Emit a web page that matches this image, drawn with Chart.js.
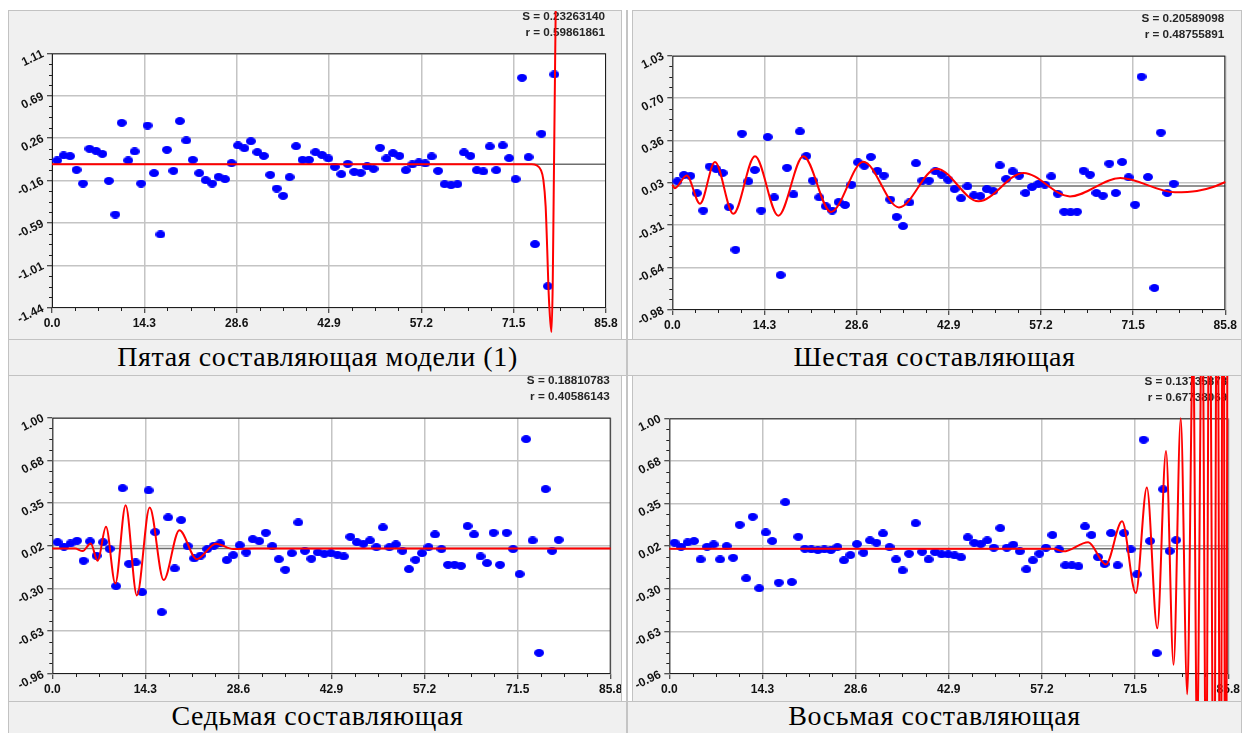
<!DOCTYPE html>
<html>
<head>
<meta charset="utf-8">
<script src="https://cdn.jsdelivr.net/npm/chart.js@4.4.1/dist/chart.umd.min.js"></script>
<style>
  html, body { margin: 0; padding: 0; background: #fff; }
  body { width: 1245px; height: 733px; position: relative; overflow: hidden; }
  .box { position: absolute; background: #f0f0f0; border: 1px solid #c2c2c2; box-sizing: border-box; }
  .box canvas { position: absolute; left: 0; top: 0; }
  .cap { position: absolute; background: #f0f0f0; border: 1px solid #c2c2c2; box-sizing: border-box;
         font-family: "Liberation Serif", "Times New Roman", serif; font-size: 28px; letter-spacing: 0.6px; color: #000;
         text-align: center; white-space: nowrap; overflow: hidden; }
  .sep { position: absolute; background: #c4c4c4; }
</style>
</head>
<body>

<div class="box" style="left:8px;top:10px;width:614px;height:330px"><canvas id="c5" width="612" height="328"></canvas></div>
<div class="box" style="left:632px;top:10px;width:610px;height:330px"><canvas id="c6" width="608" height="328"></canvas></div>
<div class="box" style="left:8px;top:375px;width:614px;height:327px"><canvas id="c7" width="612" height="325"></canvas></div>
<div class="box" style="left:632px;top:375px;width:610px;height:327px"><canvas id="c8" width="608" height="325"></canvas></div>

<div class="cap" style="left:8px;top:339px;width:619px;height:37px;line-height:32.5px;padding-top:1px">Пятая составляющая модели (1)</div>
<div class="cap" style="left:627px;top:339px;width:615px;height:37px;line-height:32.5px;padding-top:1px">Шестая составляющая</div>
<div class="cap" style="left:8px;top:701px;width:619px;height:40px;line-height:28px">Седьмая составляющая</div>
<div class="cap" style="left:627px;top:701px;width:615px;height:40px;line-height:28px">Восьмая составляющая</div>
<div class="sep" style="left:626px;top:10px;width:2px;height:723px"></div>

<script>
// axis ticks
const xTicks = [0, 14.3, 28.6, 42.9, 57.2, 71.5, 85.8];
const xTickLabels = ['0.0', '14.3', '28.6', '42.9', '57.2', '71.5', '85.8'];

const yTicks5 = [1.11, 0.685, 0.26, -0.165, -0.59, -1.015, -1.44];
const yLabels5 = ['1.11', '0.69', '0.26', '-0.16', '-0.59', '-1.01', '-1.44'];
const yTicks6 = [1.03, 0.695, 0.36, 0.025, -0.31, -0.645, -0.98];
const yLabels6 = ['1.03', '0.70', '0.36', '0.03', '-0.31', '-0.64', '-0.98'];
const yTicks78 = [1.00, 0.673, 0.347, 0.02, -0.307, -0.633, -0.96];
const yLabels78 = ['1.00', '0.68', '0.35', '0.02', '-0.30', '-0.63', '-0.96'];

// residuals (blue points), one per sample
const resid5 = [
  0.037, 0.087, 0.080, -0.057, -0.194, 0.154, 0.134, 0.103, -0.167, -0.504,
  0.414, 0.037, 0.127, -0.194, 0.387, -0.090, -0.704, 0.144, -0.067, 0.431,
  0.237, 0.043, -0.090, -0.160, -0.194, -0.127, -0.150, 0.010, 0.187, 0.160,
  0.230, 0.120, 0.083, -0.107, -0.244, -0.317, -0.130, 0.180, 0.043, 0.043,
  0.120, 0.093, 0.057, -0.027, -0.100, 0.003, -0.077, -0.087, -0.023, -0.047,
  0.164, 0.057, 0.110, 0.083, -0.060, -0.003, 0.017, 0.007, 0.077, -0.067,
  -0.200, -0.210, -0.200, 0.117, 0.083, -0.060, -0.073, 0.177, -0.060, 0.187,
  0.060, -0.150, 0.865, 0.070, -0.801, 0.304, -1.222, 0.898
];
const resid6 = [
  0.037, 0.087, 0.080, -0.057, -0.194, 0.154, 0.134, 0.103, -0.167, -0.504,
  0.414, 0.037, 0.127, -0.194, 0.387, -0.090, -0.704, 0.144, -0.067, 0.431,
  0.237, 0.043, -0.090, -0.160, -0.194, -0.127, -0.150, 0.010, 0.187, 0.160,
  0.230, 0.120, 0.083, -0.107, -0.244, -0.317, -0.130, 0.180, 0.043, 0.043,
  0.116, 0.090, 0.050, -0.024, -0.097, -0.003, -0.074, -0.080, -0.024, -0.040,
  0.163, 0.055, 0.116, 0.082, -0.055, -0.008, 0.016, 0.011, 0.076, -0.061,
  -0.203, -0.208, -0.203, 0.121, 0.090, -0.055, -0.076, 0.177, -0.055, 0.190,
  0.069, -0.148, 0.864, 0.071, -0.806, 0.422, -0.055, 0.018
];
const resid7 = [
  0.048, 0.015, 0.038, 0.059, -0.094, 0.054, -0.056, 0.048, -0.003, -0.288,
  0.461, -0.117, -0.107, -0.334, 0.444, 0.125, -0.487, 0.237, -0.153, 0.217,
  0.018, -0.076, -0.054, -0.005, 0.020, 0.038, -0.089, -0.051, 0.025, -0.031,
  0.071, 0.056, 0.120, 0.018, -0.082, -0.163, -0.036, 0.199, -0.018, -0.079,
  -0.030, -0.041, -0.036, -0.048, -0.061, 0.089, 0.048, 0.036, 0.061, 0.010,
  0.161, 0.010, 0.031, -0.018, -0.158, -0.087, -0.036, 0.010, 0.107, -0.005,
  -0.125, -0.125, -0.133, 0.171, 0.107, -0.061, -0.112, 0.120, -0.125, 0.120,
  -0.005, -0.196, 0.836, 0.061, -0.798, 0.454, -0.018, 0.066
];
const resid8 = [
  0.046, 0.015, 0.048, 0.059, -0.082, 0.015, 0.033, -0.082, 0.020, -0.069,
  0.184, -0.227, 0.245, -0.303, 0.125, 0.059, -0.260, 0.357, -0.255, 0.092,
  0.000, -0.005, -0.010, -0.005, -0.010, 0.013, -0.089, -0.048, 0.036, -0.031,
  0.064, 0.046, 0.117, 0.013, -0.082, -0.166, -0.038, 0.196, -0.023, -0.082,
  -0.026, -0.043, -0.043, -0.051, -0.066, 0.087, 0.046, 0.036, 0.064, 0.008,
  0.158, 0.008, 0.031, -0.020, -0.158, -0.089, -0.038, 0.008, 0.105, -0.005,
  -0.127, -0.127, -0.135, 0.171, 0.105, -0.064, -0.117, 0.120, -0.127, 0.120,
  -0.005, -0.196, 0.836, 0.059, -0.800, 0.456, -0.018, 0.066
];
const firstSampleT = 0.8;   // time of sample 1, one unit per sample

// fitted components (red curves), read at their turning points
const fit5X = [0, 25, 50, 74.3, 75.0, 75.7, 76.1, 76.45, 76.7, 76.9, 77.1, 77.35, 77.55, 77.7, 77.85, 78.0, 78.1];
const fit5Y = [0, 0, 0, 0, -0.01, -0.057, -0.157, -0.42, -0.86, -1.26, -1.51, -1.68, -1.2, -0.3, 0.6, 1.5, 2.2];

const fit6X = [0, 0.4, 2.23, 4.3, 6.62, 9.47, 12.83, 16.45, 20.33, 24.62, 29.64, 35.17, 41.0, 47.5, 54.5, 61.7, 69.5, 78.0, 81.4, 83.9, 85.8];
const fit6Y = [0.01, -0.018, 0.084, -0.14, 0.19, -0.22, 0.235, -0.235, 0.235, -0.205, 0.192, -0.169, 0.137, -0.121, 0.103, -0.082, 0.063, -0.05, -0.04, -0.008, 0.032];

const fit7X = [0, 3.5, 4.67, 5.9, 6.97, 8.25, 9.68, 11.27, 13.0, 14.96, 17.11, 19.52, 22.19, 25.15, 27.8, 31, 85.8];
const fit7Y = [0, 0, -0.02, 0.038, -0.094, 0.166, -0.268, 0.331, -0.359, 0.313, -0.242, 0.14, -0.082, 0.036, -0.005, 0, 0];

const fit8X = [0, 30, 59.0, 60.5, 64.3, 67.0, 69.5, 71.6, 73.3, 74.9, 76.24, 77.4, 78.5, 79.5, 80.4, 81.0, 81.8, 82.4, 82.9, 83.6, 84.1, 84.6, 85.0, 85.4, 85.75];
const fit8Y = [0, 0, 0, -0.02, 0.05, -0.12, 0.21, -0.34, 0.47, -0.61, 0.75, -0.89, 1.0, -1.115, 1.6, -1.5, 2.0, -2.0, 2.5, -2.6, 3.1, -3.3, 3.8, -4.1, 4.6];

const stats5 = ['S = 0.23263140', 'r = 0.59861861'];
const stats6 = ['S = 0.20589098', 'r = 0.48755891'];
const stats7 = ['S = 0.18810783', 'r = 0.40586143'];
const stats8 = ['S = 0.13735878', 'r = 0.67738069'];

// blue elliptic marker
const dotImg = (() => {
  const c = document.createElement('canvas');
  c.width = 10; c.height = 8;
  const g = c.getContext('2d');
  g.fillStyle = '#0000ff';
  g.beginPath();
  g.ellipse(5, 4, 5, 4, 0, 0, Math.PI * 2);
  g.fill();
  return c;
})();

const panelDeco = {
  id: 'panelDeco',
  beforeDraw(chart) {
    const { ctx, chartArea: a } = chart;
    ctx.save();
    ctx.fillStyle = '#ffffff';
    ctx.fillRect(a.left, a.top, a.right - a.left, a.bottom - a.top);
    ctx.restore();
  },
  beforeDatasetsDraw(chart, args, opts) {
    const { ctx, chartArea: a, scales: { x, y } } = chart;
    ctx.save();
    // zero line
    const y0 = y.getPixelForValue(0);
    ctx.strokeStyle = '#6e6e6e';
    ctx.lineWidth = 1.5;
    ctx.beginPath(); ctx.moveTo(a.left, y0); ctx.lineTo(a.right, y0); ctx.stroke();
    // frame
    ctx.strokeStyle = '#1e1e1e';
    ctx.lineWidth = 1;
    ctx.strokeRect(a.left + 0.5, a.top + 0.5, a.right - a.left - 1, a.bottom - a.top - 1);
    // minor ticks, 4 per major step
    ctx.beginPath();
    const xt = x.ticks.map(t => t.value), yt = y.ticks.map(t => t.value);
    for (let k = 0; k < xt.length - 1; k++) {
      for (let j = 1; j < 4; j++) {
        const px = Math.round(x.getPixelForValue(xt[k] + (xt[k + 1] - xt[k]) * j / 4)) + 0.5;
        ctx.moveTo(px, a.bottom); ctx.lineTo(px, a.bottom + 3);
      }
    }
    for (let k = 0; k < yt.length - 1; k++) {
      for (let j = 1; j < 4; j++) {
        const py = Math.round(y.getPixelForValue(yt[k] + (yt[k + 1] - yt[k]) * j / 4)) + 0.5;
        ctx.moveTo(a.left - 3, py); ctx.lineTo(a.left, py);
      }
    }
    ctx.stroke();
    // S / r
    ctx.fillStyle = '#262626';
    ctx.font = 'bold 11.7px "Liberation Sans", Arial, sans-serif';
    ctx.textAlign = 'right';
    ctx.textBaseline = 'middle';
    ctx.fillText(opts.stats[0], a.right - 1, a.top - 37);
    ctx.fillText(opts.stats[1], a.right - 1, a.top - 21);
    ctx.restore();
  }
};

const tickFont = { family: '"Liberation Sans", Arial, sans-serif', weight: 'bold', size: 12 };

function makePanel(id, p) {
  const cv = document.getElementById(id);
  const W = cv.width, H = cv.height;
  const pts = p.dots.map((v, i) => ({ x: firstSampleT + i, y: v }));
  const fit = p.fitX.map((v, i) => ({ x: v, y: p.fitY[i] }));
  new Chart(cv, {
    type: 'scatter',
    data: {
      datasets: [
        { type: 'line', data: fit, borderColor: '#ff0000', borderWidth: 2, pointRadius: 0,
          cubicInterpolationMode: 'monotone', clip: false, order: 0 },
        { data: pts, pointStyle: dotImg, pointRadius: 5, order: 1 }
      ]
    },
    options: {
      responsive: false, animation: false, events: [],
      layout: { padding: { left: 0, top: p.area.t, right: W - p.area.r, bottom: 0 } },
      plugins: { legend: { display: false }, tooltip: { enabled: false }, panelDeco: { stats: p.stats } },
      scales: {
        x: {
          type: 'linear', min: 0, max: 85.8,
          afterBuildTicks: s => { s.ticks = xTicks.map(v => ({ value: v })); },
          afterFit: s => { s.height = H - p.area.b; s.paddingLeft = 0; s.paddingRight = 0; },
          ticks: { callback: (v, i) => xTickLabels[i], font: tickFont, color: '#111', padding: 3, maxRotation: 0, autoSkip: false },
          grid: { color: '#c4c4c4', lineWidth: 1.5, tickLength: 5, tickColor: '#1e1e1e', tickWidth: 1 },
          border: { display: false }
        },
        y: {
          type: 'linear', min: p.yTicks[p.yTicks.length - 1], max: p.yTicks[0],
          afterBuildTicks: s => { s.ticks = p.yTicks.slice().reverse().map(v => ({ value: v })); },
          afterFit: s => { s.width = p.area.l; s.paddingTop = 0; s.paddingBottom = 0; },
          ticks: { callback: (v, i, t) => p.yLabels[t.length - 1 - i], font: tickFont, color: '#111', padding: 4,
                   minRotation: 26, maxRotation: 26, autoSkip: false },
          grid: { color: '#c4c4c4', lineWidth: 1.5, tickLength: 5, tickColor: '#1e1e1e', tickWidth: 1 },
          border: { display: false }
        }
      }
    },
    plugins: [panelDeco]
  });
}

makePanel('c5', { dots: resid5, fitX: fit5X, fitY: fit5Y, yTicks: yTicks5, yLabels: yLabels5, stats: stats5,
                  area: { l: 43, t: 42.3, r: 597, b: 297 } });
makePanel('c6', { dots: resid6, fitX: fit6X, fitY: fit6Y, yTicks: yTicks6, yLabels: yLabels6, stats: stats6,
                  area: { l: 39.3, t: 44.7, r: 592.3, b: 299 } });
makePanel('c7', { dots: resid7, fitX: fit7X, fitY: fit7Y, yTicks: yTicks78, yLabels: yLabels78, stats: stats7,
                  area: { l: 43.3, t: 41.7, r: 601.7, b: 298 } });
makePanel('c8', { dots: resid8, fitX: fit8X, fitY: fit8Y, yTicks: yTicks78, yLabels: yLabels78, stats: stats8,
                  area: { l: 36.3, t: 42.3, r: 595.3, b: 298 } });
</script>
</body>
</html>
